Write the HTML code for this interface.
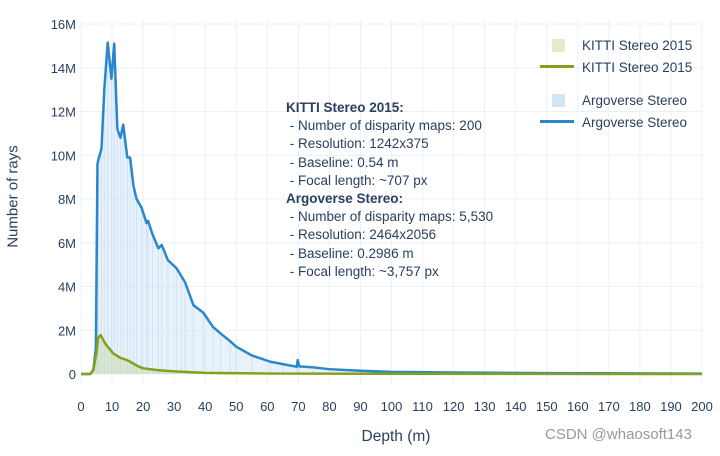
<!DOCTYPE html>
<html><head><meta charset="utf-8"><style>
body{margin:0;background:#fff;width:720px;height:451px;overflow:hidden;font-family:"Liberation Sans",sans-serif}
svg text{font-family:"Liberation Sans",sans-serif;fill:#2a3f5f}
</style></head><body>
<svg id="c" width="720" height="451"></svg>
<script>
const argoDepth=[0,3,4,4.8,5.3,5.6,6.6,7.5,8.6,9.8,10.7,11.7,12.7,13.6,14.9,15.8,16.9,17.9,19.5,21.1,21.6,23,24.9,26,28,30.8,32.4,33.5,36.2,39.4,42.5,45,48,50,55,61,65,69.5,69.8,70.3,75,80,90,100,120,150,200];
const argoVals=[0,0,0.2,1.2,9.6,9.8,10.3,13,15.15,13.5,15.1,11.2,10.8,11.4,9.9,9.9,8.6,8.0,7.6,6.9,7.0,6.4,5.75,5.9,5.2,4.83,4.45,4.2,3.15,2.8,2.15,1.85,1.5,1.25,0.85,0.56,0.45,0.33,0.64,0.35,0.3,0.22,0.15,0.1,0.07,0.04,0.02];
const kittiDepth=[0,3,4,5,5.5,6.3,8,10.4,12.5,14.7,15.9,18,20,25,30,40,60,100,200];
const kittiVals=[0,0,0.2,1.0,1.65,1.78,1.35,0.94,0.75,0.64,0.56,0.38,0.26,0.17,0.12,0.05,0.02,0.01,0];
const xTicks=[0,10,20,30,40,50,60,70,80,90,100,110,120,130,140,150,160,170,180,190,200];
const yTicks=[0,2,4,6,8,10,12,14,16];
const NS='http://www.w3.org/2000/svg';
const svg=document.getElementById('c');
const X=d=>81+d*(621/200), Y=v=>374-v*21.875;
function el(t,a,p){const e=document.createElementNS(NS,t);for(const k in a)e.setAttribute(k,a[k]);(p||svg).appendChild(e);return e;}
const grid=el('g',{});

xTicks.forEach(t=>{
 el('line',{x1:X(t),x2:X(t),y1:20,y2:384,stroke:'#ebf0f8','stroke-width':1},grid);
 const tx=el('text',{x:X(t),y:411,'text-anchor':'middle','font-size':13});tx.textContent=t;
 
});
yTicks.forEach(t=>{
 el('line',{x1:81,x2:702,y1:Y(t),y2:Y(t),stroke:'#ebf0f8','stroke-width':1},grid);
 const tx=el('text',{x:76,y:Y(t)+5,'text-anchor':'end','font-size':13});tx.textContent=t===0?'0':t+'M';
 
});
function area(ds,vs,fill,name){
 let d='M'+X(ds[0])+','+Y(0);ds.forEach((x,i)=>d+=' L'+X(x)+','+Y(vs[i]));d+=' L'+X(ds[ds.length-1])+','+Y(0)+'Z';
 const p=el('path',{d:d,fill:fill});
 
}
function line(ds,vs,col,name){
 const p=el('polyline',{points:ds.map((x,i)=>X(x)+','+Y(vs[i])).join(' '),fill:'none',stroke:col,'stroke-width':2.5,'stroke-linejoin':'round'});
 
}
area(argoDepth,argoVals,'rgba(200,222,244,0.4)','argoverse-histogram');
argoDepth.forEach((x,i)=>{const b=el('line',{x1:X(x),x2:X(x),y1:Y(0),y2:Y(argoVals[i]),stroke:'#cfe2f5','stroke-width':1});
 });
area(kittiDepth,kittiVals,'rgba(200,218,170,0.5)','kitti-histogram');
line(argoDepth,argoVals,'#2a87c9','argoverse-line');
line(kittiDepth,kittiVals,'#86a01a','kitti-line');
</script>
<div style="position:absolute;left:0;top:0;width:720px;height:451px;pointer-events:none">
<div style="position:absolute;left:-42px;top:188px;width:110px;text-align:center;transform:rotate(-90deg);font-size:15px;color:#2a3f5f">Number of rays</div>
<div style="position:absolute;left:336px;top:428px;width:120px;text-align:center;font-size:15.5px;color:#2a3f5f">Depth (m)</div>
<div style="position:absolute;left:286px;top:99px;font-size:13.5px;line-height:18.2px;color:#2a3f5f;white-space:pre"><b>KITTI Stereo 2015:</b>
 - Number of disparity maps: 200
 - Resolution: 1242x375
 - Baseline: 0.54 m
 - Focal length: ~707 px
<b>Argoverse Stereo:</b>
 - Number of disparity maps: 5,530
 - Resolution: 2464x2056
 - Baseline: 0.2986 m
 - Focal length: ~3,757 px</div>
<div style="position:absolute;left:540px;top:35px;font-size:13.5px;color:#2a3f5f;line-height:21.5px">
 <div><span style="display:inline-block;width:13px;height:13px;background:#e3ebcc;margin:0 17px 0 12px;vertical-align:-2px"></span>KITTI Stereo 2015</div>
 <div><span style="display:inline-block;width:34px;height:3px;background:#86a01a;margin-right:8px;vertical-align:4px"></span>KITTI Stereo 2015</div>
 <div style="margin-top:12px"><span style="display:inline-block;width:13px;height:13px;background:#d3e6f6;margin:0 17px 0 12px;vertical-align:-2px"></span>Argoverse Stereo</div>
 <div><span style="display:inline-block;width:34px;height:3px;background:#2a87c9;margin-right:8px;vertical-align:4px"></span>Argoverse Stereo</div>
</div>
<div style="position:absolute;left:545px;top:426px;font-size:15px;color:#999">CSDN @whaosoft143</div>
</div>
</body></html>
